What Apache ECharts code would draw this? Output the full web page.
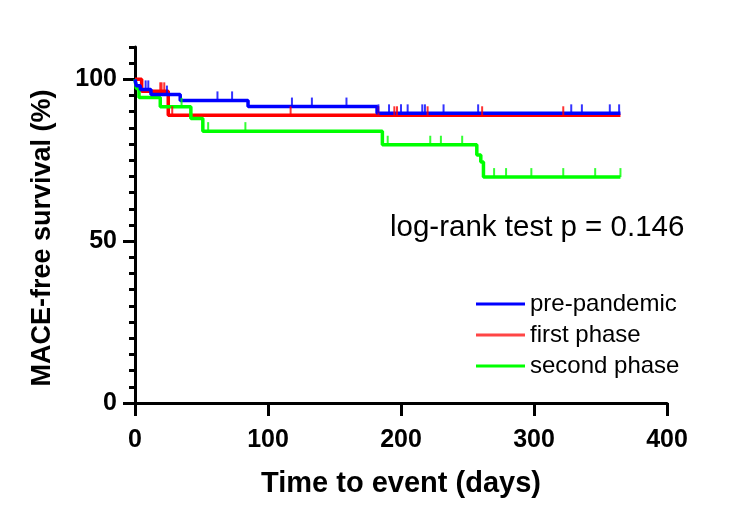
<!DOCTYPE html>
<html>
<head>
<meta charset="utf-8">
<script src="https://cdn.jsdelivr.net/npm/echarts@6/dist/echarts.min.js"></script>
<style>
html,body{margin:0;padding:0;background:#fff;}
#main{width:750px;height:523px;}
</style>
</head>
<body>
<div id="main"></div>
<script>
// step points: time of event (days) and survival (%) after it
var preTimes = [0, 1, 4, 12, 34, 85, 182, 365];
var preSurv = [100, 98.0, 96.9, 95.3, 93.5, 91.6, 89.5, 89.5];
var firstTimes = [0, 5, 25, 365];
var firstSurv = [100, 96.3, 88.9, 88.9];
var secondTimes = [0, 1, 3, 19, 42, 51, 186, 257, 260, 262, 365];
var secondSurv = [100, 97.2, 94.4, 91.5, 87.9, 84.0, 79.8, 76.6, 74.5, 69.8, 69.8];
// censored observations (days)
var preCens = [8, 10, 24, 62, 73, 118, 133, 159, 183, 191, 200, 205, 216, 218, 232, 258, 328, 336, 357, 364];
var firstCens = [19, 20, 22, 28, 117, 183, 195, 197, 220, 261, 322];
var secondCens = [35, 55, 83, 190, 222, 230, 246, 270, 279, 298, 322, 346, 365];
// axis ticks
var xTicks = [0, 100, 200, 300, 400];
var yMajor = [0, 50, 100];

var FONT = 'Liberation Sans, Arial, sans-serif';

function pairs(t, s) {
	var out = [];
	for (var i = 0; i < t.length; i++) out.push([t[i], s[i]]);
	return out;
}
// survival level of a step curve at time d
function levelAt(t, s, d) {
	var v = s[0];
	for (var i = 0; i < t.length; i++) { if (t[i] <= d) v = s[i]; }
	return v;
}
function cens(days, t, s) {
	return days.map(function (d) { return [d, levelAt(t, s, d)]; });
}
function kmLine(name, color, data) {
	return {
		name: name, type: 'line', step: 'end', data: data,
		showSymbol: false, symbol: 'none', animation: false,
		lineStyle: {color: color, width: 3.5}, itemStyle: {color: color}
	};
}
function tickSeries(name, color, data) {
	return {
		name: name, type: 'scatter', data: data, animation: false,
		symbol: 'rect', symbolSize: [2, 9], symbolOffset: [0, -4.5],
		itemStyle: {color: color}, z: 3, silent: true
	};
}

var myChart = echarts.init(document.getElementById('main'));
myChart.setOption({
	backgroundColor: '#fff',
	grid: {left: 135, right: 83, top: 47, bottom: 120},
	legend: {
		orient: 'vertical', left: 476, top: 292, itemGap: 7, padding: 0,
		itemWidth: 49, itemHeight: 3, icon: 'rect',
		textStyle: {fontFamily: FONT, fontSize: 24, color: '#000'},
		data: [
			{name: 'pre-pandemic', itemStyle: {color: '#0000ff'}},
			{name: 'first phase', itemStyle: {color: '#ff4545'}},
			{name: 'second phase', itemStyle: {color: '#00ff00'}}
		]
	},
	xAxis: {
		type: 'value', min: xTicks[0], max: xTicks[xTicks.length - 1], interval: 100,
		name: 'Time to event (days)', nameLocation: 'middle', nameGap: 66,
		nameTextStyle: {fontFamily: FONT, fontSize: 29, fontWeight: 'bold', color: '#000'},
		axisLine: {lineStyle: {color: '#000', width: 3}},
		axisTick: {length: 13, lineStyle: {color: '#000', width: 3}},
		axisLabel: {margin: 25, fontFamily: FONT, fontSize: 25, fontWeight: 'bold', color: '#000'},
		splitLine: {show: false}
	},
	yAxis: [{
		type: 'value', min: 0, max: 110, interval: 5,
		axisLine: {lineStyle: {color: '#000', width: 3}},
		axisTick: {customValues: yMajor, length: 12, lineStyle: {color: '#000', width: 3}},
		axisLabel: {customValues: yMajor, margin: 18, fontFamily: FONT, fontSize: 25, fontWeight: 'bold', color: '#000'},
		splitLine: {show: false}
	}, {
		type: 'value', min: 0, max: 110, interval: 5, position: 'left',
		axisLine: {show: false},
		axisTick: {length: 6, lineStyle: {color: '#000', width: 3}},
		axisLabel: {show: false},
		splitLine: {show: false}
	}],
	graphic: [{
		type: 'text', x: 43, y: 238, rotation: Math.PI / 2,
		style: {
			text: 'MACE-free survival (%)', font: 'bold 27px ' + FONT, fill: '#000',
			align: 'center', verticalAlign: 'middle'
		}
	}, {
		type: 'text', left: 390, top: 213,
		style: {text: 'log-rank test p = 0.146', font: '29.5px ' + FONT, fill: '#000'}
	}],
	series: [
		kmLine('first phase', '#ff0000', pairs(firstTimes, firstSurv)),
		kmLine('second phase', '#00ff00', pairs(secondTimes, secondSurv)),
		kmLine('pre-pandemic', '#0000ff', pairs(preTimes, preSurv)),
		tickSeries('first cens', '#ff0000', cens(firstCens, firstTimes, firstSurv)),
		tickSeries('second cens', '#00ff00', cens(secondCens, secondTimes, secondSurv)),
		tickSeries('pre cens', '#0000ff', cens(preCens, preTimes, preSurv))
	]
});
</script>
</body>
</html>
